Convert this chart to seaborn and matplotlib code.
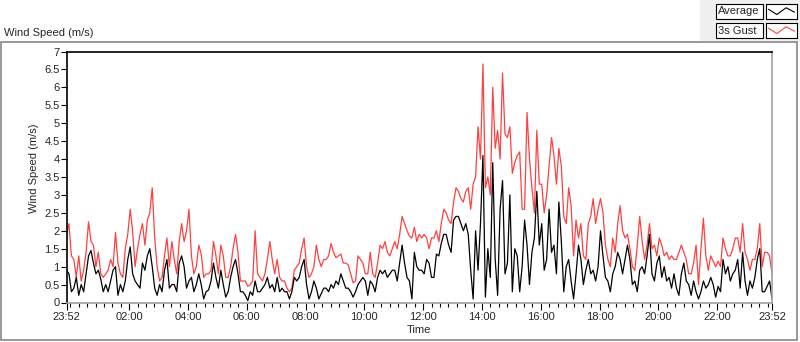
import numpy as np
import pandas as pd
import matplotlib
matplotlib.use("Agg")
import matplotlib.pyplot as plt
from matplotlib.patches import Rectangle
import seaborn as sns

# 5-minute samples, 23:52 -> 23:52 next day
gust = [1.9, 2.2, 1.3, 1.2, 0.7, 1.3, 0.6, 0.9, 1.4, 2.25,
        1.7, 1.6, 1.0, 1.4, 0.8, 0.7, 0.8, 0.9, 1.2, 1.0,
        1.95, 1.1, 0.8, 0.7, 1.5, 1.9, 2.6, 2.0, 1.0, 1.5,
        1.9, 2.2, 1.6, 2.3, 2.5, 3.2, 1.8, 1.0, 0.6, 0.7,
        1.3, 1.8, 1.0, 1.7, 1.2, 0.8, 1.7, 2.2, 1.7, 2.0,
        2.6, 1.3, 0.8, 1.0, 1.6, 1.35, 0.7, 0.8, 0.8, 0.9,
        1.7, 1.3, 0.8, 1.6, 1.3, 0.7, 0.7, 1.0, 1.5, 1.9,
        1.4, 0.6, 0.6, 0.6, 0.45, 0.5, 0.6, 2.0, 0.8, 0.7,
        0.6, 0.8, 1.2, 1.7, 1.2, 0.8, 1.2, 0.7, 0.6, 0.6,
        0.4, 0.3, 0.4, 0.9, 1.0, 1.1, 1.5, 1.8, 1.0, 0.7,
        0.8, 1.0, 1.6, 1.2, 1.0, 1.2, 1.2, 1.3, 1.65, 1.4,
        1.25, 1.3, 1.35, 1.1, 1.1, 1.05, 0.8, 0.55, 0.6, 1.3,
        1.2, 1.1, 0.8, 0.8, 1.4, 0.8, 0.7, 1.1, 1.6, 1.5,
        1.7, 1.4, 1.3, 1.5, 1.7, 1.5, 1.9, 2.4, 2.2, 2.0,
        1.85, 1.8, 2.1, 1.7, 1.9, 1.8, 1.9, 1.8, 1.5, 1.8,
        1.8, 2.0, 1.7, 2.2, 2.6, 2.5, 2.3, 2.2, 2.8, 3.2,
        3.1, 2.9, 2.8, 3.1, 3.2, 2.6, 3.3, 3.5, 4.9, 4.0,
        6.65, 3.2, 3.5, 3.0, 6.0, 4.3, 4.8, 4.0, 6.4, 4.7,
        4.6, 4.9, 3.6, 3.9, 4.1, 4.2, 2.6, 2.6, 5.3, 4.0,
        3.2, 2.5, 4.8, 3.3, 3.3, 2.5, 3.0, 3.8, 4.6, 4.1,
        3.3, 4.3, 3.8, 2.4, 2.2, 3.2, 2.7, 1.3, 2.3, 1.8,
        2.2, 1.3, 1.2, 2.2, 2.4, 2.9, 2.2, 2.6, 2.9, 2.5,
        1.6, 1.2, 1.0, 1.8, 1.4, 2.2, 2.7, 2.0, 1.8, 1.9,
        1.5, 1.0, 0.9, 1.6, 2.4, 1.7, 1.2, 1.6, 2.2, 1.5,
        1.6, 1.3, 1.8, 1.6, 1.3, 1.4, 1.2, 1.3, 1.2, 1.2,
        1.4, 1.6, 1.4, 1.2, 0.8, 0.8, 1.1, 1.6, 0.5, 1.5,
        2.35, 1.3, 0.9, 1.3, 1.15, 1.0, 1.15, 1.0, 1.8, 1.5,
        1.3, 1.3, 1.5, 1.8, 1.8, 1.4, 2.2, 1.4, 1.2, 0.9,
        1.2, 1.2, 1.5, 2.2, 1.0, 1.4, 1.4, 1.3, 0.8]

average = [0.9, 0.8, 0.3, 0.4, 0.7, 0.2, 0.5, 0.3, 0.8, 1.3,
           1.45, 1.1, 0.8, 0.9, 0.65, 0.3, 0.5, 0.3, 0.6, 0.9,
           1.0, 0.2, 0.5, 0.3, 0.6, 1.2, 1.55, 0.8, 0.6, 0.5,
           0.4, 1.1, 0.9, 1.3, 1.5, 1.0, 0.4, 0.2, 0.5, 0.3,
           0.9, 1.2, 0.4, 0.5, 0.5, 0.3, 1.1, 1.3, 1.0, 0.4,
           0.6, 0.7, 0.3, 0.5, 0.8, 0.5, 0.1, 0.3, 0.35, 0.6,
           1.1, 0.7, 0.4, 0.9, 0.5, 0.15, 0.3, 0.7, 1.0, 1.2,
           0.8, 0.3, 0.3, 0.2, 0.05, 0.3, 0.2, 0.6, 0.3, 0.3,
           0.4, 0.5, 0.7, 0.4, 0.5, 0.3, 0.7, 0.3, 0.4, 0.3,
           0.3, 0.1, 0.3, 0.7, 0.6, 0.7, 1.0, 1.2, 0.5, 0.1,
           0.3, 0.6, 0.4, 0.1, 0.25, 0.4, 0.4, 0.3, 0.5, 0.4,
           0.6, 0.5, 0.8, 0.6, 0.4, 0.4, 0.3, 0.15, 0.3, 0.5,
           0.6, 0.7, 0.6, 0.2, 0.6, 0.5, 0.3, 0.7, 0.9, 0.8,
           0.9, 0.7, 0.8, 0.9, 0.9, 0.6, 1.1, 1.6, 1.1, 0.7,
           0.6, 0.1, 1.4, 1.0, 0.9, 0.9, 0.8, 1.2, 1.1, 0.7,
           0.7, 1.35, 1.3, 1.65, 1.9, 1.9, 1.6, 1.4, 2.3, 2.4,
           2.4, 2.2, 2.0, 2.2, 1.9, 0.9, 0.1, 2.0, 0.9, 2.2,
           4.1, 0.15, 1.5, 0.7, 3.9, 1.2, 0.2, 2.6, 3.4, 0.8,
           1.1, 3.0, 0.3, 1.5, 1.3, 0.3, 1.0, 2.3, 1.6, 0.5,
           1.4, 1.8, 3.1, 1.6, 2.2, 0.9, 1.2, 2.6, 1.4, 1.6,
           0.8, 2.8, 1.7, 0.3, 1.0, 1.2, 0.6, 0.1, 0.8, 1.6,
           1.2, 0.5, 0.9, 1.2, 0.8, 0.9, 0.6, 1.0, 2.0, 1.3,
           0.7, 0.6, 0.3, 0.8, 1.0, 1.4, 1.2, 0.8, 1.2, 1.6,
           1.2, 0.5, 0.6, 0.3, 0.9, 1.0, 0.8, 1.3, 1.9, 0.8,
           0.6, 1.1, 1.3, 0.7, 1.0, 0.6, 0.7, 0.4, 0.8, 0.4,
           0.2, 0.8, 1.1, 0.6, 0.5, 0.2, 0.6, 0.3, 0.1, 0.3,
           0.6, 0.4, 0.5, 0.7, 0.5, 0.15, 0.45, 0.3, 1.2, 0.8,
           1.0, 0.6, 0.8, 0.9, 1.2, 0.4, 1.4, 0.6, 0.2, 0.6,
           0.4, 0.7, 1.2, 1.5, 0.3, 0.3, 0.45, 0.6, 0.1]

time_labels = ["23:52", "02:00", "04:00", "06:00", "08:00", "10:00", "12:00",
               "14:00", "16:00", "18:00", "20:00", "22:00", "23:52"]
series_names = ["3s Gust", "Average"]
series_colors = ["#ff4040", "black"]

# minutes since 23:52
minutes = np.arange(len(gust)) * 5
df = pd.DataFrame({"Time": np.concatenate([minutes, minutes]),
                   "Wind": gust + average,
                   "series": [series_names[0]] * len(gust) + [series_names[1]] * len(average)})

sns.set_style("white")
plt.rcParams["font.family"] = ["Liberation Sans", "DejaVu Sans"]
plt.rcParams["font.size"] = 8

fig = plt.figure(figsize=(8, 3.42), dpi=100)
W, H = 800, 342

# outer panel frame
fig.add_artist(Rectangle((700 / W, 1 - 42 / H), 100 / W, 42 / H, transform=fig.transFigure,
                         fc="#f0f0f0", ec="none", zorder=0))
fig.add_artist(Rectangle((1 / W, 1 - 340 / H), 796 / W, 298 / H, transform=fig.transFigure,
                         fc="none", ec="#888888", lw=1.2))

ax = fig.add_axes([66.5 / W, 1 - 302.5 / H, (772 - 66.5) / W, (302.5 - 51.5) / H])
sns.lineplot(data=df, x="Time", y="Wind", hue="series", hue_order=series_names,
             palette=dict(zip(series_names, series_colors)), legend=False,
             linewidth=0.9, ax=ax)

ax.set_xlim(0, 1440)
ax.set_ylim(0, 7)
ax.set_yticks(np.arange(0, 7.01, 0.5))
ax.set_yticklabels([f"{v:g}" for v in np.arange(0, 7.01, 0.5)])

def to_min(s):
    h, m = map(int, s.split(":"))
    return (h * 60 + m + 8) % 1440

xt = [0] + [to_min(s) for s in time_labels[1:-1]] + [1440]
ax.set_xticks(xt)
ax.set_xticklabels(time_labels)
ax.set_xticks(np.arange(8, 1440, 120 / 7), minor=True)
ax.tick_params(axis="x", which="major", bottom=True, length=5, width=0.8, pad=2,
               labelsize=8, color="black")
ax.tick_params(axis="x", which="minor", bottom=True, length=3, width=0.8, color="black")
ax.tick_params(axis="y", which="major", left=True, length=4, width=0.8, pad=1,
               labelsize=8, color="black")

for side in ["top", "left"]:
    ax.spines[side].set_color("black")
    ax.spines[side].set_linewidth(1.2)
for side in ["bottom", "right"]:
    ax.spines[side].set_color("#a0a0a0")
    ax.spines[side].set_linewidth(1.2)

ax.set_ylabel("Wind Speed (m/s)", fontsize=8)
ax.yaxis.set_label_coords((39 - 66.5) / (772 - 66.5), 0.536)
ax.set_xlabel("Time", fontsize=8)
ax.xaxis.set_label_coords(0.5, (302.5 - 325) / 251)

fig.text(4 / W, 1 - 33 / H, "Wind Speed (m/s)", fontsize=8, va="center", ha="left")

# LabVIEW style legend boxes
for k, (name, col) in enumerate(zip(["Average", "3s Gust"], ["black", "#ff4040"])):
    top = 4 + k * 19
    fig.add_artist(Rectangle((716 / W, 1 - (top + 15) / H), 47 / W, 15 / H,
                             transform=fig.transFigure, fc="white", ec="black", lw=0.8))
    fig.text(718 / W, 1 - (top + 7.5) / H, name, fontsize=8, va="center", ha="left")
    sw = fig.add_axes([766 / W, 1 - (top + 15) / H, 31 / W, 15 / H])
    sw.plot([0.08, 0.35, 0.65, 0.92], [0.65, 0.3, 0.75, 0.45], color=col, lw=0.8)
    sw.set_xlim(0, 1)
    sw.set_ylim(0, 1)
    sw.set_xticks([])
    sw.set_yticks([])
    for s in sw.spines.values():
        s.set_color("black")
        s.set_linewidth(0.8)

fig.savefig("out.png", dpi=100)
